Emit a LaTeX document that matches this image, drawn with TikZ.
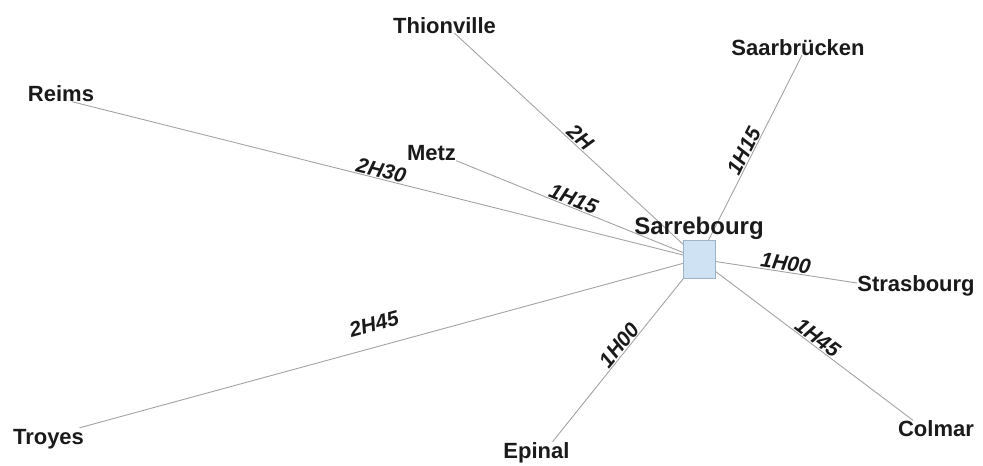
\documentclass[tikz,border=0pt]{standalone}
\usepackage{fontspec}
\setmainfont{Liberation Sans}
\usepackage{tikz}
\usetikzlibrary{positioning}
\definecolor{hubfill}{HTML}{CFE2F3}
\definecolor{hubline}{HTML}{9DB4C8}
\definecolor{roadgray}{HTML}{A3A3A3}
\definecolor{inkgray}{HTML}{1A1A1A}
\pgfdeclarelayer{background}
\pgfsetlayers{background,main}

\begin{document}
\begin{tikzpicture}[x=1pt,y=-1pt,
	city/.style={font=\bfseries\fontsize{22}{24}\selectfont,text=inkgray,inner sep=0pt,text height=16pt,text depth=0pt},
	hubbox/.style={draw=hubline,fill=hubfill,line width=0.8pt,minimum width=32pt,minimum height=38pt,inner sep=0pt},
	hubname/.style={font=\bfseries\fontsize{24}{26}\selectfont,text=inkgray,inner sep=0pt,text depth=0pt},
	road/.style={draw=roadgray,line width=0.9pt},
	time/.style={font=\bfseries\itshape\fontsize{21}{23}\selectfont,text=inkgray,sloped,above,inner sep=1pt,text height=15pt,text depth=0pt}]
	\useasboundingbox (0,0) rectangle (983,466);
	
	% hub
	\node[hubbox,label={[hubname,label distance=5pt]above:Sarrebourg}] (sarrebourg) at (699,259) {};
	
	% towns
	\node[city] (reims) at (61,93.5) {Reims};
	\node[city] (thionville) at (444.5,25) {Thionville};
	\node[city] (saarbrucken) at (798,47) {Saarbrücken};
	\node[city] (metz) at (431.5,152.5) {Metz};
	\node[city] (strasbourg) at (916,283) {Strasbourg};
	\node[city] (colmar) at (936,428.5) {Colmar};
	\node[city] (epinal) at (536.5,450) {Epinal};
	\node[city] (troyes) at (48.5,436) {Troyes};
	
	% roads
	\begin{pgfonlayer}{background}
		\draw[road] (sarrebourg.center) -- ([xshift=11pt]reims.south) node[time,pos=0.51] {2H30};
		\draw[road] (sarrebourg.center) -- ([xshift=10pt]thionville.south) node[time,pos=0.51] {2H};
		\draw[road] (sarrebourg.center) -- ([xshift=4pt]saarbrucken.south) node[time,pos=0.51] {1H15};
		\draw[road] (sarrebourg.center) -- (metz.south east) node[time,pos=0.53] {1H15};
		\draw[road] (sarrebourg.center) -- (strasbourg.west) node[time,pos=0.54] {1H00};
		\draw[road] (sarrebourg.center) -- ([xshift=-23pt]colmar.north) node[time,pos=0.53] {1H45};
		\draw[road] (sarrebourg.center) -- ([xshift=16pt]epinal.north) node[time,pos=0.50] {1H00};
		\draw[road] (sarrebourg.center) -- ([xshift=31pt]troyes.north) node[time,pos=0.515,above=14pt] {2H45};
	\end{pgfonlayer}
\end{tikzpicture}
\end{document}
